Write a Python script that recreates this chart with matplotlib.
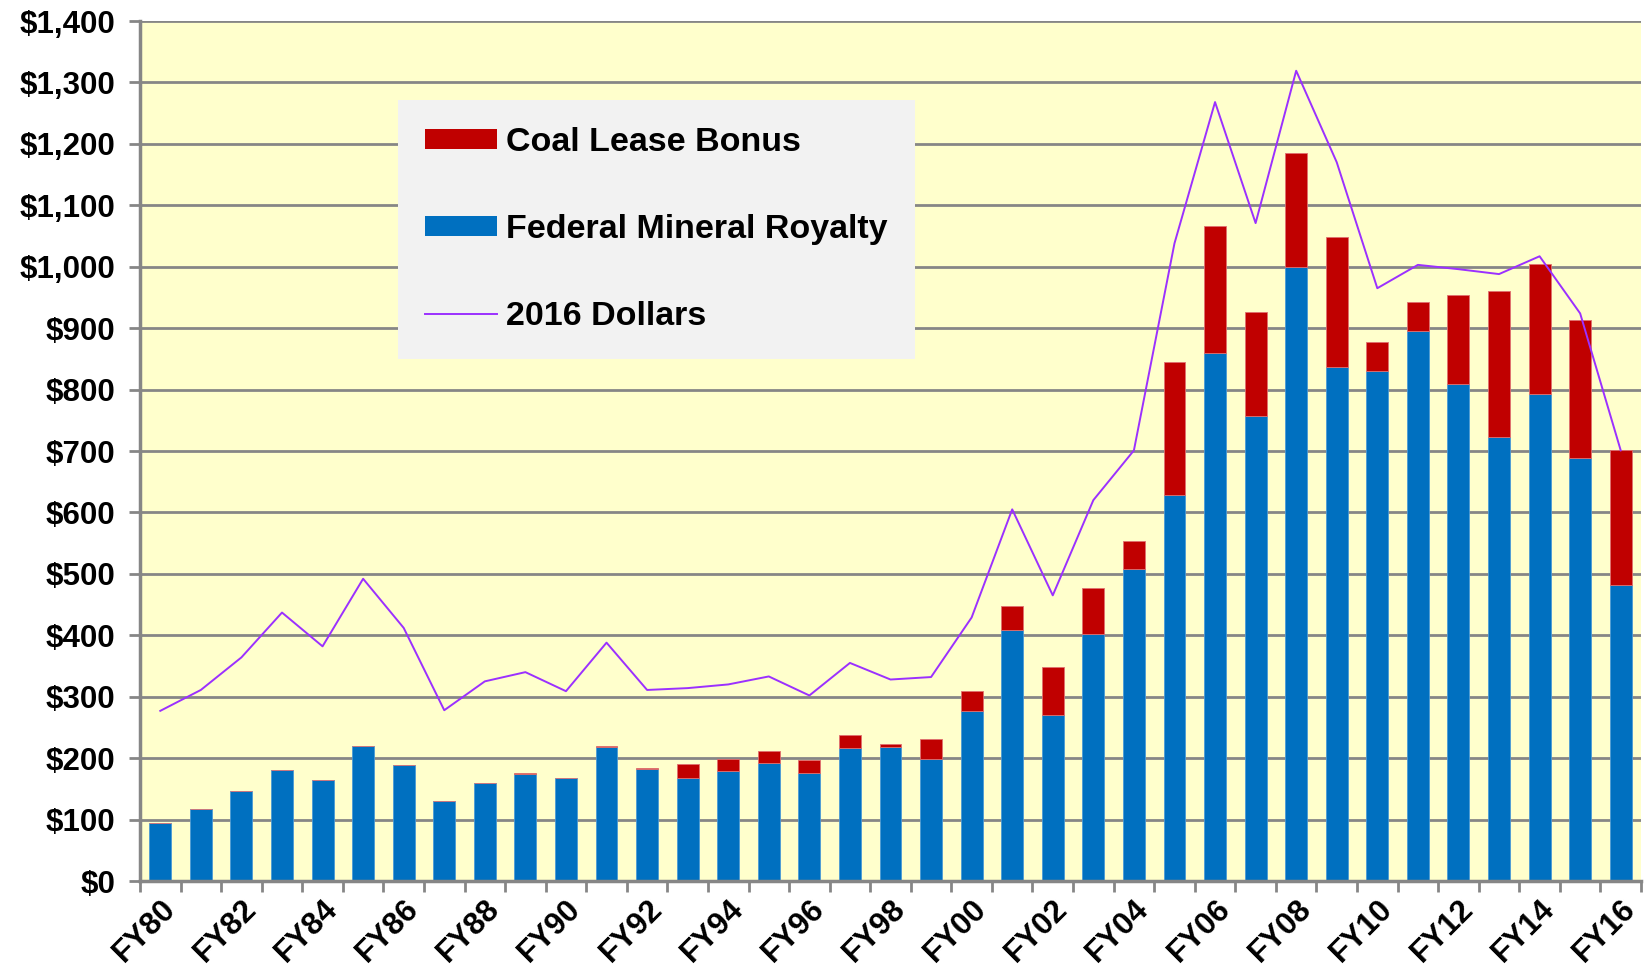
import matplotlib
matplotlib.use("Agg")
import matplotlib.pyplot as plt
from matplotlib.patches import Patch
from matplotlib.lines import Line2D
from matplotlib.ticker import FuncFormatter, FixedLocator
import numpy as np

# Fiscal years FY80 .. FY16
years = [f"FY{y % 100:02d}" for y in range(1980, 2017)]

# Federal mineral royalty ($ millions, nominal)
royalty = [95, 118, 146, 181, 165, 220, 189, 131, 160, 175, 168, 218,
           182, 168, 179, 192, 176, 216, 218, 198, 277, 408, 271, 402,
           508, 629, 859, 757, 1000, 836, 831, 895, 809, 722, 792, 688, 482]

# Coal lease bonus ($ millions, nominal)
bonus = [0, 0, 0, 0, 0, 0, 0, 0, 0, 1, 0, 2,
         1.5, 22, 19, 20, 21, 22, 5, 33, 32, 40, 77, 75,
         46, 216, 208, 170, 185, 212, 47, 47, 145, 239, 213, 225, 219]

# Total receipts expressed in 2016 dollars
real_2016 = [277, 311, 364, 437, 382, 492, 412, 278, 325, 340, 309, 388,
             311, 314, 320, 333, 302, 355, 328, 332, 429, 605, 465, 620,
             701, 1038, 1268, 1071, 1319, 1170, 965, 1003, 996, 988, 1017, 924, 701]

BLUE = "#0070C0"
RED = "#C00000"
PURPLE = "#9B30FF"
GRID = "#868686"
BG = "#FFFFCC"

plt.rcParams["font.family"] = ["Liberation Sans", "DejaVu Sans"]

fig = plt.figure(figsize=(16.44, 9.74), dpi=100)
ax = fig.add_axes([140 / 1644, 1 - 881 / 974, (1641 - 140) / 1644, (881 - 21) / 974])
ax.set_facecolor(BG)

x = np.arange(len(years))
bw = 0.54
ax.bar(x, royalty, width=bw, color=BLUE, edgecolor="#4A9AD6", linewidth=0.6, zorder=3)
ax.bar(x, bonus, width=bw, bottom=royalty, color=RED, edgecolor="#E07070", linewidth=0.6, zorder=3)
ax.plot(x, real_2016, color=PURPLE, linewidth=1.4, zorder=4)

ax.set_xlim(-0.5, len(years) - 0.5)
ax.set_ylim(0, 1400)

# y axis: dollar ticks with gridlines
ax.set_yticks(np.arange(0, 1401, 100))
ax.yaxis.set_major_formatter(FuncFormatter(lambda v, p: f"${v:,.0f}"))
ax.yaxis.grid(True, color=GRID, linewidth=2.0, zorder=1)
ax.set_axisbelow(True)
ax.tick_params(axis="y", length=8, width=2, color=GRID, pad=10,
               labelsize=22.5)
for lab in ax.get_yticklabels():
    lab.set_fontweight("bold")

# x axis: category boundaries as tick marks, labels every other year
ax.xaxis.set_minor_locator(FixedLocator(np.arange(-0.5, len(years), 1.0)))
ax.set_xticks(x[::2])
ax.set_xticklabels(years[::2], rotation=45, ha="right", va="top",
                   rotation_mode="anchor", fontsize=22.5, fontweight="bold")
ax.tick_params(axis="x", which="major", length=0, pad=9)
ax.tick_params(axis="x", which="minor", length=8, width=2, color=GRID)

for side in ("top", "right"):
    ax.spines[side].set_visible(False)
for side in ("left", "bottom"):
    ax.spines[side].set_color(GRID)
    ax.spines[side].set_linewidth(2.5)
    ax.spines[side].set_zorder(5)

handles = [
    Patch(facecolor=RED, edgecolor="none", label="Coal Lease Bonus"),
    Patch(facecolor=BLUE, edgecolor="none", label="Federal Mineral Royalty"),
    Line2D([], [], color=PURPLE, linewidth=1.4, label="2016 Dollars"),
]
leg = ax.legend(handles=handles, loc="upper left",
                bbox_to_anchor=((398 - 140) / 1501, (881 - 100) / 860),
                frameon=True, fancybox=False, facecolor="#F2F2F2", edgecolor="none",
                framealpha=1.0, prop={"weight": "bold", "size": 24.5},
                handlelength=2.1, handleheight=0.5, handletextpad=0.28,
                labelspacing=1.64, borderpad=0.8, borderaxespad=0)
leg.set_zorder(6)

fig.savefig("out.png", dpi=100, facecolor="white")
